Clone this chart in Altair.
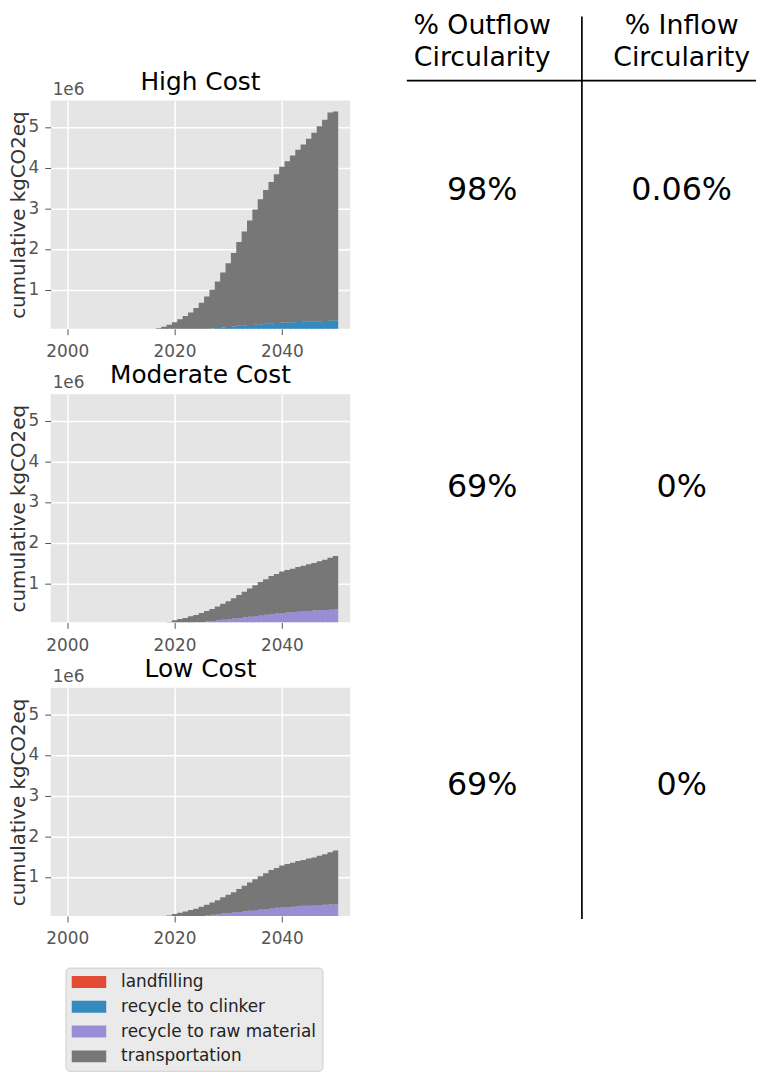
import altair as alt
import pandas as pd

FONT = "DejaVu Sans"

# ---------------- data ----------------
YEARS = list(range(2016, 2051))
SCENARIOS = ["High Cost", "Moderate Cost", "Low Cost"]
CATEGORIES = ["landfilling", "recycle to clinker", "recycle to raw material", "transportation"]
COLORS = ["#E24A33", "#348ABD", "#988ED5", "#777777"]

# yearly stacked values, in 1e6 kgCO2eq (2016 .. 2050)
HIGH_CLINKER = [0, 0, 0, 0, 0, 0, 0,
                0.005, 0.015, 0.025, 0.035, 0.045, 0.06, 0.07, 0.085, 0.095, 0.11,
                0.12, 0.13, 0.14, 0.15, 0.16, 0.17, 0.18, 0.19, 0.195, 0.2,
                0.205, 0.21, 0.215, 0.22, 0.225, 0.23, 0.24, 0.25]
HIGH_TRANSPORT = [0.02, 0.05, 0.09, 0.14, 0.2, 0.27, 0.35, 0.435, 0.535, 0.655,
                  0.795, 0.955, 1.14, 1.35, 1.565, 1.805, 2.06, 2.31, 2.57, 2.83,
                  3.07, 3.29, 3.48, 3.66, 3.83, 3.965, 4.10, 4.235, 4.36, 4.495,
                  4.64, 4.795, 4.95, 5.115, 5.13]
MOD_RAW = [0, 0, 0, 0, 0, 0,
           0.01, 0.02, 0.03, 0.045, 0.06, 0.075, 0.09, 0.105, 0.12, 0.135,
           0.15, 0.165, 0.18, 0.195, 0.21, 0.225, 0.24, 0.255, 0.27, 0.28,
           0.29, 0.30, 0.31, 0.32, 0.33, 0.34, 0.345, 0.35, 0.36]
MOD_TRANSPORT = [0, 0, 0,
                 0.05, 0.09, 0.12, 0.14, 0.17, 0.19, 0.225, 0.26, 0.295, 0.34,
                 0.395, 0.44, 0.495, 0.56, 0.625, 0.69, 0.755, 0.82, 0.875, 0.94,
                 0.975, 1.02, 1.05, 1.07, 1.10, 1.12, 1.15, 1.17, 1.20, 1.235,
                 1.28, 1.31]
LOW_RAW = [0, 0, 0, 0, 0, 0,
           0.01, 0.02, 0.03, 0.04, 0.055, 0.07, 0.085, 0.10, 0.11, 0.125,
           0.14, 0.155, 0.17, 0.185, 0.20, 0.21, 0.225, 0.24, 0.25, 0.26,
           0.27, 0.28, 0.29, 0.295, 0.30, 0.31, 0.315, 0.32, 0.33]
LOW_TRANSPORT = [0, 0, 0,
                 0.05, 0.09, 0.12, 0.14, 0.17, 0.19, 0.23, 0.26, 0.30, 0.34,
                 0.40, 0.45, 0.50, 0.565, 0.63, 0.695, 0.76, 0.82, 0.88, 0.945,
                 0.98, 1.03, 1.06, 1.08, 1.11, 1.13, 1.16, 1.18, 1.21, 1.245,
                 1.29, 1.32]

Y_TICKS = [1, 2, 3, 4, 5]
X_TICKS = [2000, 2020, 2040]

HEADER_LINE1 = ["% Outflow", "% Inflow"]
HEADER_LINE2 = ["Circularity", "Circularity"]
OUTFLOW = ["98%", "69%", "69%"]
INFLOW = ["0.06%", "0%", "0%"]

SERIES = [
    ("High Cost", "recycle to clinker", HIGH_CLINKER),
    ("High Cost", "transportation", HIGH_TRANSPORT),
    ("Moderate Cost", "recycle to raw material", MOD_RAW),
    ("Moderate Cost", "transportation", MOD_TRANSPORT),
    ("Low Cost", "recycle to raw material", LOW_RAW),
    ("Low Cost", "transportation", LOW_TRANSPORT),
]

rows = []
for scen, cat, vals in SERIES:
    for yr, v in zip(YEARS, vals):
        rows.append({"scenario": scen, "category": cat,
                     "order": CATEGORIES.index(cat), "year": yr, "value": v})
df = pd.DataFrame(rows)

# ---------------- panels ----------------
PANEL_W = 302
PANEL_H = 230

xscale = alt.Scale(domain=[1996.9, 2052.75], nice=False, zero=False)
yscale = alt.Scale(domain=[0.04, 5.65], nice=False, zero=False)
cscale = alt.Scale(domain=CATEGORIES, range=COLORS)

common_axis = dict(labelFontSize=17, labelColor="#555555", labelFont=FONT,
                   tickColor="#555555", tickSize=6,
                   domain=False, gridColor="white", gridWidth=1.5)
xaxis = alt.Axis(values=X_TICKS, format="d", title=None, labelPadding=9, **common_axis)
yaxis = alt.Axis(values=Y_TICKS, format="d", title="cumulative kgCO2eq",
                 titleFontSize=20, titleFont=FONT, titleFontWeight="normal",
                 titleColor="#333333", titlePadding=0, labelPadding=6, **common_axis)

legend = alt.Legend(
    orient="none", legendX=15, legendY=874, title=None,
    fillColor="#EAEAEA", strokeColor="#CCCCCC", cornerRadius=4, padding=6,
    labelFontSize=17, labelFont=FONT, labelColor="#222222", labelLimit=400,
    symbolType="M-1,-0.343L1,-0.343L1,0.343L-1,0.343Z", symbolSize=1225,
    symbolStrokeWidth=0, symbolOpacity=1, clipHeight=17, rowPadding=7,
    labelOffset=15, symbolOffset=0,
)


def panel(name):
    base = (
        alt.Chart(df)
        .transform_filter(alt.datum.scenario == name)
        .transform_stack(stack="value", groupby=["year"], as_=["v0", "v1"],
                         sort=[alt.SortField("order", order="ascending")])
        .transform_filter("datum.value > 0")
        .transform_joinaggregate(lastyear="max(year)")
        # each year is a 1-year wide step; steps overlap ~1px to hide seams
        .transform_calculate(
            x0="datum.year - 0.5",
            x1="datum.year + 0.5 + (datum.year < datum.lastyear ? 0.2 : 0)")
    )
    steps = base.mark_rect(clip=True).encode(
        x=alt.X("x0:Q", scale=xscale, axis=xaxis),
        x2="x1:Q",
        y=alt.Y("v0:Q", scale=yscale, axis=yaxis),
        y2="v1:Q",
        color=alt.Color("category:N", scale=cscale, legend=legend),
    )
    expo = alt.Chart(pd.DataFrame({"label": ["1e6"]})).mark_text(
        align="left", baseline="alphabetic", fontSize=17, font=FONT, color="#555555"
    ).encode(x=alt.value(2), y=alt.value(-6), text="label:N")
    title = alt.Chart(pd.DataFrame({"label": [name]})).mark_text(
        align="center", baseline="alphabetic", fontSize=25, font=FONT, color="black"
    ).encode(x=alt.value(PANEL_W / 2), y=alt.value(-11), text="label:N")
    return alt.layer(steps, expo, title).properties(
        width=PANEL_W, height=PANEL_H,
        view=alt.ViewBackground(fill="#E5E5E5", stroke=None),
    )


left = alt.vconcat(*[panel(s) for s in SCENARIOS], spacing=4)

# ---------------- table ----------------
# x: column index (0 = outflow, 1 = inflow); y: row index (1..3 = scenarios)
xs = alt.Scale(domain=[-0.378, 1.373], nice=False, zero=False)
ys = alt.Scale(domain=[0.7, 3.45], nice=False, zero=False, reverse=True)
HEADER_ROWS = [0.45, 0.556]
SEPARATOR_ROW = 0.633
TABLE_TOP_ROW = 0.418

hdr = []
for c in range(2):
    hdr.append({"col": c, "row": HEADER_ROWS[0], "text": HEADER_LINE1[c]})
    hdr.append({"col": c, "row": HEADER_ROWS[1], "text": HEADER_LINE2[c]})
header_df = pd.DataFrame(hdr)
vals = []
for i in range(len(SCENARIOS)):
    vals.append({"col": 0, "row": i + 1, "text": OUTFLOW[i]})
    vals.append({"col": 1, "row": i + 1, "text": INFLOW[i]})
values_df = pd.DataFrame(vals)

header = alt.Chart(header_df).mark_text(
    fontSize=27, font=FONT, baseline="middle", align="center", color="black"
).encode(x=alt.X("col:Q", scale=xs, axis=None), y=alt.Y("row:Q", scale=ys, axis=None),
         text="text:N")
values = alt.Chart(values_df).mark_text(
    fontSize=32, font=FONT, baseline="middle", align="center", color="black"
).encode(x=alt.X("col:Q", scale=xs, axis=None), y=alt.Y("row:Q", scale=ys, axis=None),
         text="text:N")
sep = alt.Chart(pd.DataFrame({"row": [SEPARATOR_ROW]})).mark_rule(
    color="black", strokeWidth=1.7
).encode(y=alt.Y("row:Q", scale=ys, axis=None), x=alt.value(0), x2=alt.value("width"))
divider = alt.Chart(pd.DataFrame({"col": [0.5], "row": [TABLE_TOP_ROW]})).mark_rule(
    color="black", strokeWidth=1.7
).encode(x=alt.X("col:Q", scale=xs, axis=None),
         y=alt.Y("row:Q", scale=ys, axis=None), y2=alt.value("height"))

right = alt.layer(divider, sep, header, values).properties(
    width=352, height=825, view=alt.ViewBackground(stroke=None))

chart = (
    alt.hconcat(left, right, spacing=56)
    .resolve_scale(x="independent", y="independent")
    .properties(padding=0)
    .configure(font=FONT)
    .configure_view(stroke=None)
)

chart.save("out.html", embed_options={"renderer": "svg", "actions": False})
